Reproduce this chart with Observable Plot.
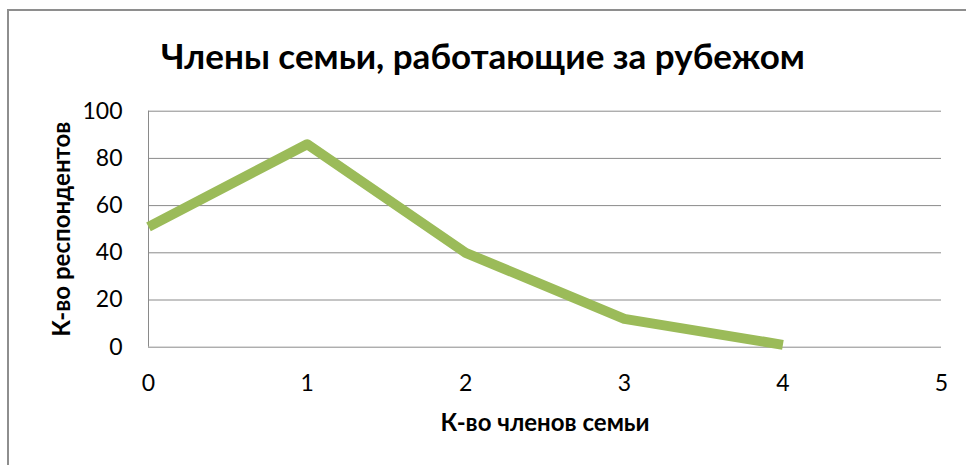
<!DOCTYPE html>
<html>
<head>
<meta charset="utf-8">
<script src="https://cdn.jsdelivr.net/npm/d3@7"></script>
<script src="https://cdn.jsdelivr.net/npm/@observablehq/plot@0.6"></script>
<style>
  html, body { margin: 0; padding: 0; background: #fff; overflow: hidden; }
  #wrap { position: relative; width: 966px; height: 465px; font-family: Lato, "Open Sans", sans-serif; }
  #frame { position: absolute; left: 7px; top: 9px; width: 1000px; height: 460px;
           border-left: 2px solid #8e8e8e; border-top: 2px solid #8e8e8e; box-sizing: border-box; }
  #title { position: absolute; left: 0; top: 0; width: 966px; height: 95px; text-align: center;
           font-weight: bold; font-size: 35px; line-height: 35px; padding-top: 38px; box-sizing: border-box; color: #000; }
  #chart { position: absolute; left: 0; top: 95px; }
</style>
</head>
<body>
<div id="wrap">
  <div id="frame"></div>
  <div id="title">Члены семьи, работающие за рубежом</div>
  <div id="chart"></div>
</div>
<script>
const members = [0, 1, 2, 3, 4];
const respondents = [51, 86, 40, 12, 1];
const xTicks = [0, 1, 2, 3, 4, 5];
const yTicks = [0, 20, 40, 60, 80, 100];
const xLabel = "К-во членов семьи";
const yLabel = "К-во респондентов";

const data = members.map((m, i) => ({m, r: respondents[i]}));

const chart = Plot.plot({
  width: 966,
  height: 370,
  marginLeft: 148,
  marginRight: 25,
  marginTop: 15.7,
  marginBottom: 118.3,
  style: {fontFamily: "Lato, 'Open Sans', sans-serif", color: "#000", background: "transparent"},
  x: {domain: [0, 5], ticks: xTicks},
  y: {domain: [0, 100], ticks: yTicks},
  marks: [
    Plot.gridY(yTicks, {stroke: "#8a8a8a", strokeOpacity: 1, strokeWidth: 1}),
    Plot.ruleX([0], {stroke: "#8a8a8a", strokeWidth: 1}),
    Plot.axisY({ticks: yTicks, tickSize: 0, tickPadding: 26, fontSize: 23,
                label: yLabel, labelAnchor: "center", labelArrow: "none", labelOffset: 96}),
    Plot.axisX({ticks: xTicks, tickFormat: d3.format("d"), tickSize: 0, tickPadding: 27, fontSize: 23,
                label: xLabel, labelAnchor: "center", labelArrow: "none", labelOffset: 84}),
    Plot.line(data, {x: "m", y: "r", stroke: "#9bbb59", strokeWidth: 10,
                     strokeLinejoin: "round", strokeLinecap: "butt"})
  ]
});
document.getElementById("chart").appendChild(chart);
// bold axis labels
chart.querySelectorAll("g[aria-label='x-axis label'] text, g[aria-label='y-axis label'] text").forEach(t => {
  t.setAttribute("font-weight", "bold");
  t.setAttribute("font-size", "24");
});
</script>
</body>
</html>
